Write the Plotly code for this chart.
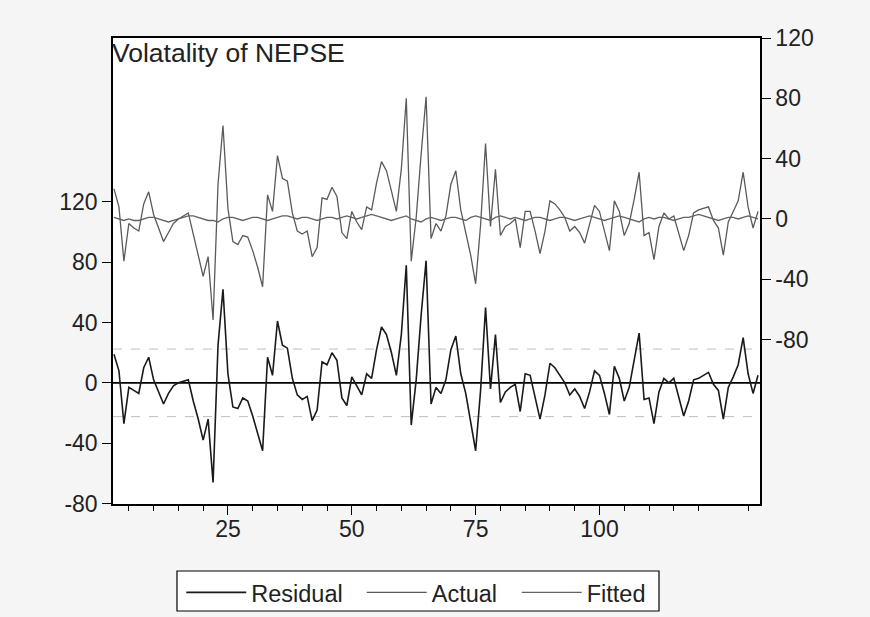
import plotly.graph_objects as go

# ---- data ----
obs = list(range(2, 133))

residual = [19, 8, -27, -3, -5, -7, 10, 17, 2, -6,
            -14, -7, -2, 0, 1, 2, -12, -24, -38, -24,
            -66, 25, 62, 6, -16, -17, -10, -12, -22, -33,
            -45, 17, 5, 41, 25, 23, 3, -8, -11, -9,
            -25, -18, 14, 12, 20, 15, -10, -15, 4, -2,
            -8, 6, 3, 22, 37, 32, 20, 5, 32, 78,
            -28, 2, 45, 81, -14, -3, -7, 2, 22, 31,
            6, -7, -25, -45, -5, 50, -4, 32, -13, -6,
            -3, -1, -19, 6, 5, -9, -24, -8, 13, 10,
            5, 0, -8, -4, -9, -17, -6, 8, 5, -7,
            -21, 11, 3, -12, -3, 14, 33, -11, -10, -27,
            -6, 3, 0, 3, -10, -22, -12, 2, 3, 5,
            7, -1, -5, -24, -3, 4, 12, 30, 6, -7, 5]

fitted = [1, 0, -1, 0, -1, -1, 0, 1, 1, 0,
          -1, -2, -1, 0, 1, 2, 2, 1, 0, -1,
          -1, -2, 0, 1, 1, 0, -1, 0, 1, 1,
          0, -1, 0, 1, 2, 2, 1, 0, 1, 1,
          0, -1, 0, 1, 1, 0, 1, 2, 1, 0,
          1, 2, 3, 2, 1, 0, -1, 0, 1, 2,
          0, -1, -2, 0, 1, 0, -1, 0, 1, 1,
          0, -1, 1, 2, 1, 0, -1, 1, 2, 1,
          0, 1, 0, -1, 0, 1, 1, 0, -1, 0,
          1, 1, 0, -1, 0, 1, 2, 1, 0, -1,
          0, 1, 2, 1, 0, -1, -2, 0, 1, 0,
          1, 1, 0, -1, 0, 1, 1, 2, 3, 2,
          1, 0, -1, 0, 1, 1, 0, 1, 2, 1, 0]

actual = [20, 8, -28, -3, -6, -8, 10, 18, 3, -6,
          -15, -9, -3, 0, 2, 4, -10, -23, -38, -25,
          -67, 23, 62, 7, -15, -17, -11, -12, -21, -32,
          -45, 16, 5, 42, 27, 25, 4, -8, -10, -8,
          -25, -19, 14, 13, 21, 15, -9, -13, 5, -2,
          -7, 8, 6, 24, 38, 32, 19, 5, 33, 80,
          -28, 1, 43, 81, -13, -3, -8, 2, 23, 32,
          6, -8, -24, -43, -4, 50, -5, 33, -11, -5,
          -3, 0, -19, 5, 5, -8, -23, -8, 12, 10,
          6, 1, -8, -5, -9, -16, -4, 9, 5, -8,
          -21, 12, 5, -11, -3, 13, 31, -11, -9, -27,
          -5, 4, 0, 2, -10, -21, -11, 4, 6, 7,
          8, -1, -6, -24, -2, 5, 12, 31, 8, -6, 5]

se_band = 22.4
title_text = "Volatality of NEPSE"
x_ticks = [25, 50, 75, 100]
y_ticks = [-80, -40, 0, 40, 80, 120]
y_tick_labels = ["-80", "-40", "0", "40", "80", "120"]

FONT = "Arial, Liberation Sans, sans-serif"

fig = go.Figure()
fig.add_trace(go.Scatter(x=obs, y=residual, name="Residual", mode="lines",
                         line=dict(color="#1a1a1a", width=1.6), yaxis="y",
                         legend="legend"))
fig.add_trace(go.Scatter(x=obs, y=actual, name="Actual", mode="lines",
                         line=dict(color="#5a5a5a", width=1.3), yaxis="y2",
                         legend="legend2"))
fig.add_trace(go.Scatter(x=obs, y=fitted, name="Fitted", mode="lines",
                         line=dict(color="#626262", width=1.3), yaxis="y2",
                         legend="legend3"))

shapes = [
    dict(type="line", xref="paper", x0=0, x1=1, yref="y", y0=se_band, y1=se_band,
         line=dict(color="#bdbdbd", width=1, dash="dash"), layer="below"),
    dict(type="line", xref="paper", x0=0, x1=1, yref="y", y0=-se_band, y1=-se_band,
         line=dict(color="#bdbdbd", width=1, dash="dash"), layer="below"),
    dict(type="line", xref="paper", x0=0, x1=1, yref="y", y0=0, y1=0,
         line=dict(color="#000000", width=1.6), layer="below"),
    # legend frame
    dict(type="rect", xref="paper", yref="paper", x0=0.0989, x1=0.8439,
         y0=-0.2296, y1=-0.1438, fillcolor="#ffffff",
         line=dict(color="#000000", width=1.2), layer="below"),
]

leg_common = dict(orientation="h", xanchor="left", y=-0.143, yanchor="top",
                  bgcolor="rgba(0,0,0,0)", borderwidth=0,
                  font=dict(size=23.5, color="#222222", family=FONT), itemwidth=60)

fig.update_layout(
    width=870, height=617, autosize=False,
    margin=dict(l=113, r=110, t=38, b=113, autoexpand=False),
    paper_bgcolor="#f5f5f5", plot_bgcolor="#ffffff",
    font=dict(family=FONT, size=23, color="#222222"),
    showlegend=True,
    legend=dict(x=0.1055, **leg_common),
    legend2=dict(x=0.3845, **leg_common),
    legend3=dict(x=0.6240, **leg_common),
    shapes=shapes,
    annotations=[dict(text=title_text, xref="paper", yref="paper", x=0, y=1,
                      xanchor="left", yanchor="top", showarrow=False,
                      font=dict(size=26.5, color="#222222", family=FONT),
                      xshift=-3, yshift=2)],
    xaxis=dict(range=[1.8, 132.4], tickmode="array", tickvals=x_ticks,
               ticks="outside", ticklen=9, tickwidth=1.2, tickcolor="#000",
               showline=True, linecolor="#000", linewidth=1.5, mirror=True,
               showgrid=False, zeroline=False, ticklabelstandoff=-5,
               minor=dict(tickmode="array",
                          tickvals=[v for v in range(5, 131, 5) if v % 25 != 0],
                          ticks="outside", ticklen=5, tickwidth=1.2, tickcolor="#000",
                          showgrid=False),
               tickfont=dict(size=23)),
    yaxis=dict(range=[-80.3, 228.6], tickmode="array", tickvals=y_ticks,
               ticktext=y_tick_labels,
               ticks="outside", ticklen=9, tickwidth=1.2, tickcolor="#000",
               showline=True, linecolor="#000", linewidth=1.5,
               showgrid=False, zeroline=False, tickfont=dict(size=23)),
    yaxis2=dict(range=[-189, 120], tickmode="array", tickvals=y_ticks,
                ticktext=y_tick_labels,
                overlaying="y", side="right",
                ticks="outside", ticklen=9, tickwidth=1.2, tickcolor="#000",
                showline=True, linecolor="#000", linewidth=1.5,
                showgrid=False, zeroline=False, tickfont=dict(size=23)),
)

fig.write_html("out.html", config={"displayModeBar": False},
               post_script="document.body.style.margin='0';document.body.style.background='#f5f5f5';")
